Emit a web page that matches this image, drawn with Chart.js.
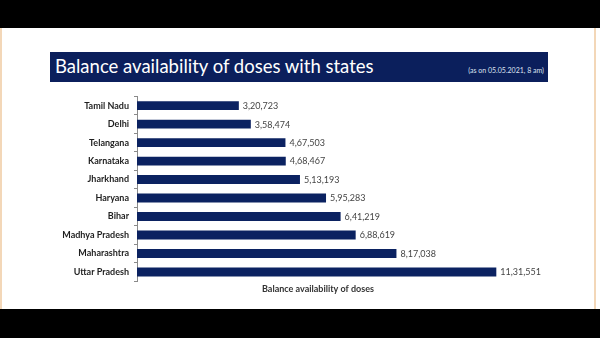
<!DOCTYPE html>
<html lang="en">
<head>
  <meta charset="UTF-8">
  <title>Balance availability of doses with states</title>
  <style>
    html, body { margin: 0; padding: 0; }
    body { width: 600px; height: 338px; background: #000; position: relative; overflow: hidden; font-family: Lato, "Open Sans", sans-serif; }
    #sheet { position: absolute; left: 0; top: 28px; width: 600px; height: 281px; background: #fff; }
    .edge { position: absolute; top: 28px; width: 2px; height: 281px; background: #f3d7b8; }
    #bar { position: absolute; left: 50px; top: 52px; width: 498px; height: 30px; background: #0b1f5c; }
    #title { position: absolute; left: 5px; top: 3px; color: #fff; font-size: 18.5px; white-space: nowrap; }
    #asof { position: absolute; right: 4px; top: 14px; color: #dde3f0; font-size: 7px; white-space: nowrap; }
    #wrap { position: absolute; left: 0; top: 86px; }
    canvas { width: 600px !important; height: 210px !important; }
  </style>
  <script src="https://cdn.jsdelivr.net/npm/chart.js"></script>
</head>
<body>
  <div id="sheet"></div>
  <div class="edge" style="left:0"></div>
  <div class="edge" style="left:594px"></div>
  <div id="bar">
    <div id="title">Balance availability of doses with states</div>
    <div id="asof">(as on 05.05.2021, 8 am)</div>
  </div>
  <div id="wrap"><canvas id="dosesChart" width="600" height="210"></canvas></div>
  <script>
    const states = ['Tamil Nadu', 'Delhi', 'Telangana', 'Karnataka', 'Jharkhand',
                    'Haryana', 'Bihar', 'Madhya Pradesh', 'Maharashtra', 'Uttar Pradesh'];
    const doses = [320723, 358474, 467503, 468467, 513193,
                   595283, 641219, 688619, 817038, 1131551];
    const axisTitle = 'Balance availability of doses';

    // indian grouping: 11,31,551
    function inr(n) {
      const s = String(n);
      const last3 = s.slice(-3);
      let rest = s.slice(0, -3);
      if (!rest) return last3;
      rest = rest.replace(/\B(?=(\d{2})+(?!\d))/g, ',');
      return rest + ',' + last3;
    }

    const valueLabels = {
      id: 'valueLabels',
      afterDatasetsDraw(chart) {
        const ctx = chart.ctx;
        const meta = chart.getDatasetMeta(0);
        ctx.save();
        ctx.font = '9px Lato';
        ctx.fillStyle = '#444';
        ctx.textBaseline = 'middle';
        ctx.textAlign = 'left';
        meta.data.forEach((bar, i) => {
          ctx.fillText(inr(doses[i]), bar.x + 4, bar.y + 0.5);
        });
        ctx.restore();
      }
    };

    const canvas = document.getElementById('dosesChart');
    new Chart(canvas, {
      type: 'bar',
      data: {
        labels: states,
        datasets: [{
          data: doses,
          backgroundColor: '#0b2261',
          borderWidth: 0,
          barPercentage: 0.48,
          categoryPercentage: 1
        }]
      },
      plugins: [valueLabels],
      options: {
        indexAxis: 'y',
        responsive: false,
        animation: false,
        layout: { padding: { left: 0, right: 101, top: 7, bottom: 0 } },
        plugins: { legend: { display: false }, tooltip: { enabled: false } },
        scales: {
          x: {
            min: 0,
            max: 1140000,
            grid: { display: false, drawTicks: false },
            border: { display: false },
            ticks: { display: false },
            title: {
              display: true,
              text: axisTitle,
              color: '#333',
              font: { family: 'Lato', size: 9, weight: 'bold' },
              padding: { top: 2, bottom: 2 }
            }
          },
          y: {
            afterFit(scale) { scale.width = 137; },
            grid: { drawOnChartArea: false, color: '#8a8a8a', tickLength: 3 },
            border: { color: '#8a8a8a', width: 1 },
            ticks: {
              color: '#1e1e1e',
              padding: 5,
              font: { family: 'Lato', size: 9, weight: 'bold' }
            }
          }
        }
      }
    });
  </script>
</body>
</html>
